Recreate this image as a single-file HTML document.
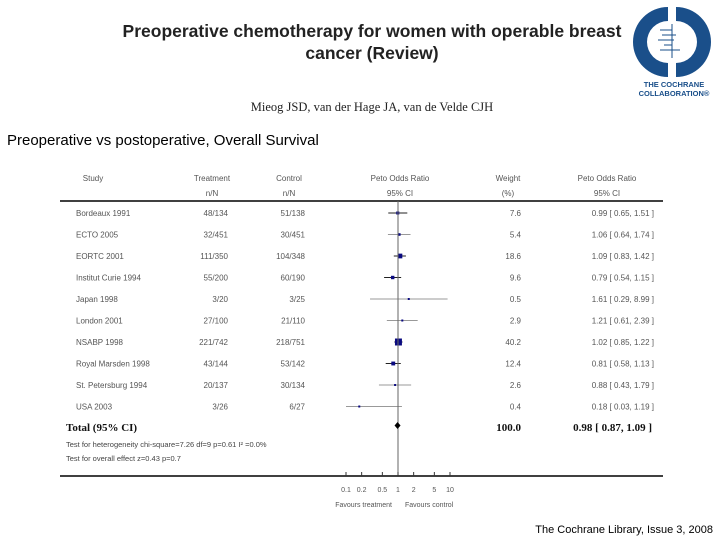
<!DOCTYPE html>
<html><head><meta charset="utf-8"><style>
body{margin:0;background:#fff;}
svg{display:block;}
</style></head><body>
<svg id="chart" width="720" height="540" viewBox="0 0 720 540" xmlns="http://www.w3.org/2000/svg">
<text x="372" y="37" text-anchor="middle" font-family="Liberation Sans, sans-serif" font-weight="bold" font-size="17.5" fill="#222">Preoperative chemotherapy for women with operable breast</text>
<text x="372" y="59" text-anchor="middle" font-family="Liberation Sans, sans-serif" font-weight="bold" font-size="17.5" fill="#222">cancer (Review)</text>
<text x="372" y="111" text-anchor="middle" font-family="Liberation Serif, serif" font-size="12.5" fill="#222">Mieog JSD, van der Hage JA, van de Velde CJH</text>
<g>
<path d="M668 7 A35 35 0 0 0 668 77 L668 63 A21 21 0 0 1 668 21 Z" fill="#1a4f8a"/>
<path d="M676 7 A35 35 0 0 1 676 77 L676 63 A21 21 0 0 0 676 21 Z" fill="#1a4f8a"/>
<g stroke="#1a4f8a" stroke-width="1"><line x1="660" y1="30" x2="672" y2="30"/><line x1="662" y1="35" x2="676" y2="35"/><line x1="658" y1="40" x2="674" y2="40"/><line x1="664" y1="45" x2="672" y2="45"/><line x1="660" y1="50" x2="680" y2="50"/><line x1="672" y1="24" x2="672" y2="58"/></g>
<text x="674" y="87" text-anchor="middle" font-family="Liberation Sans, sans-serif" font-weight="bold" font-size="7.5" fill="#1a4f8a">THE COCHRANE</text>
<text x="674" y="96" text-anchor="middle" font-family="Liberation Sans, sans-serif" font-weight="bold" font-size="7.5" fill="#1a4f8a">COLLABORATION®</text>
</g>
<text x="7" y="145" font-family="Liberation Sans, sans-serif" font-size="15" fill="#000">Preoperative vs postoperative, Overall Survival</text>
<g font-family="Liberation Sans, sans-serif" font-size="8" fill="#555">
<text x="93" y="181" text-anchor="middle">Study</text>
<text x="212" y="181" text-anchor="middle">Treatment</text>
<text x="212" y="196" text-anchor="middle">n/N</text>
<text x="289" y="181" text-anchor="middle">Control</text>
<text x="289" y="196" text-anchor="middle">n/N</text>
<text x="400" y="181" text-anchor="middle">Peto Odds Ratio</text>
<text x="400" y="196" text-anchor="middle">95% CI</text>
<text x="508" y="181" text-anchor="middle">Weight</text>
<text x="508" y="196" text-anchor="middle">(%)</text>
<text x="607" y="181" text-anchor="middle">Peto Odds Ratio</text>
<text x="607" y="196" text-anchor="middle">95% CI</text>
</g>
<line x1="60" y1="201" x2="663" y2="201" stroke="#000" stroke-width="1.5"/>
<line x1="60" y1="476" x2="663" y2="476" stroke="#000" stroke-width="1.5"/>
<g id="rows"></g>
<g id="axis"></g>
<g font-family="Liberation Serif, serif" font-weight="bold" font-size="11" fill="#111">
<text x="66" y="431">Total (95% CI)</text>
<text x="521" y="431" text-anchor="end">100.0</text>
<text x="652" y="431" text-anchor="end">0.98 [ 0.87, 1.09 ]</text>
</g>
<g font-family="Liberation Sans, sans-serif" font-size="7.5" fill="#444">
<text x="66" y="447">Test for heterogeneity chi-square=7.26 df=9 p=0.61 I² =0.0%</text>
<text x="66" y="461">Test for overall effect z=0.43   p=0.7</text>
</g>
<g font-family="Liberation Sans, sans-serif" font-size="7" fill="#555">
<text x="392" y="507" text-anchor="end">Favours treatment</text>
<text x="405" y="507">Favours control</text>
</g>
<text x="713" y="533" text-anchor="end" font-family="Liberation Sans, sans-serif" font-size="11" fill="#000">The Cochrane Library, Issue 3, 2008</text>
</svg>
<script>
var studies=["Bordeaux 1991","ECTO 2005","EORTC 2001","Institut Curie 1994","Japan 1998","London 2001","NSABP 1998","Royal Marsden 1998","St. Petersburg 1994","USA 2003"];
var treatment=["48/134","32/451","111/350","55/200","3/20","27/100","221/742","43/144","20/137","3/26"];
var control=["51/138","30/451","104/348","60/190","3/25","21/110","218/751","53/142","30/134","6/27"];
var weights=[7.6,5.4,18.6,9.6,0.5,2.9,40.2,12.4,2.6,0.4];
var orVals=[0.99,1.06,1.09,0.79,1.61,1.21,1.02,0.81,0.88,0.18];
var ciLow=[0.65,0.64,0.83,0.54,0.29,0.61,0.85,0.58,0.43,0.03];
var ciHigh=[1.51,1.74,1.42,1.15,8.99,2.39,1.22,1.13,1.79,1.19];
var totalOR=0.98;
var ticks=[0.1,0.2,0.5,1,2,5,10];
var tickLabels=["0.1","0.2","0.5","1","2","5","10"];
var NS="http://www.w3.org/2000/svg";
function xs(v){v=Math.min(10,Math.max(0.1,v));return 398+52*Math.log10(v);}
function ys(i){return 213+21.5*i;}
function mk(tag,a,p){var e=document.createElementNS(NS,tag);for(var k in a)e.setAttribute(k,a[k]);p.appendChild(e);return e;}
var rows=document.getElementById('rows');
var axis=document.getElementById('axis');
mk('line',{x1:xs(1),y1:201,x2:xs(1),y2:476,stroke:'#666','stroke-width':1},axis);
for(var i=0;i<studies.length;i++){
 var g=mk('g',{},rows);
 
 
 var y=ys(i);
 var t=mk('text',{x:76,y:y+3,'font-family':'Liberation Sans, sans-serif','font-size':8,fill:'#555'},g);t.textContent=studies[i];
 t=mk('text',{x:228,y:y+3,'text-anchor':'end','font-family':'Liberation Sans, sans-serif','font-size':8,fill:'#555'},g);t.textContent=treatment[i];
 t=mk('text',{x:305,y:y+3,'text-anchor':'end','font-family':'Liberation Sans, sans-serif','font-size':8,fill:'#555'},g);t.textContent=control[i];
 t=mk('text',{x:521,y:y+3,'text-anchor':'end','font-family':'Liberation Sans, sans-serif','font-size':8,fill:'#555'},g);t.textContent=weights[i].toFixed(1);
 t=mk('text',{x:654,y:y+3,'text-anchor':'end','font-family':'Liberation Sans, sans-serif','font-size':8,fill:'#555'},g);t.textContent=orVals[i].toFixed(2)+' [ '+ciLow[i].toFixed(2)+', '+ciHigh[i].toFixed(2)+' ]';
 var col=weights[i]<6?'#999':'#222';
 var ln=mk('line',{x1:xs(ciLow[i]),y1:y,x2:xs(ciHigh[i]),y2:y,stroke:col,'stroke-width':1},g);
 
 var s=Math.max(2,1.1*Math.sqrt(weights[i]));
 var r=mk('rect',{x:xs(orVals[i])-s/2,y:y-s/2,width:s,height:s,fill:'#0a0a80'},g);
 
}
var d=mk('path',{d:'M'+xs(totalOR)+' 422 l3 3.5 l-3 3.5 l-3 -3.5 z',fill:'#000'},axis);

for(var j=0;j<ticks.length;j++){
 var tk=mk('line',{x1:xs(ticks[j]),y1:472,x2:xs(ticks[j]),y2:476,stroke:'#333','stroke-width':1},axis);
 
 var tl=mk('text',{x:xs(ticks[j]),y:492,'text-anchor':'middle','font-family':'Liberation Sans, sans-serif','font-size':7,fill:'#555'},axis);
 
 tl.textContent=tickLabels[j];
}
</script>
</body></html>
